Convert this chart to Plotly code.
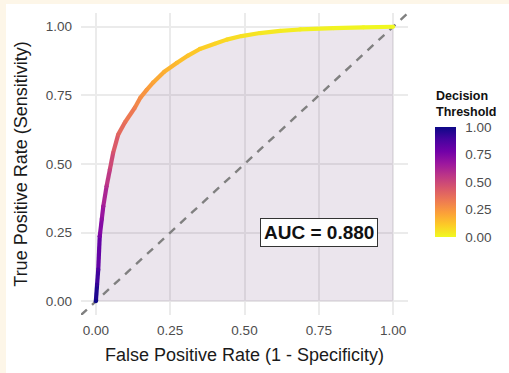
import plotly.graph_objects as go
from plotly.colors import sample_colorscale
import plotly.express as px

# ROC data
fpr = [0.000, 0.004, 0.008, 0.013, 0.020, 0.025, 0.036, 0.047, 0.058, 0.075,
       0.098, 0.131, 0.150, 0.171, 0.193, 0.230, 0.272, 0.310, 0.350, 0.400,
       0.440, 0.490, 0.552, 0.620, 0.687, 0.800, 0.900, 1.000]
tpr = [0.000, 0.060, 0.115, 0.237, 0.300, 0.346, 0.419, 0.479, 0.540, 0.607,
       0.652, 0.705, 0.742, 0.770, 0.797, 0.836, 0.868, 0.895, 0.919, 0.938,
       0.953, 0.966, 0.977, 0.985, 0.990, 0.995, 0.998, 1.000]
threshold = [1.00, 0.93, 0.87, 0.76, 0.70, 0.65, 0.58, 0.52, 0.46, 0.40,
             0.36, 0.31, 0.27, 0.24, 0.21, 0.18, 0.15, 0.13, 0.11, 0.09,
             0.075, 0.06, 0.045, 0.035, 0.025, 0.015, 0.008, 0.00]
auc_value = 0.880
tick_vals = [0.0, 0.25, 0.5, 0.75, 1.0]
tick_text = ["0.00", "0.25", "0.50", "0.75", "1.00"]
diag = [-0.05, 1.05]

W, H = 509, 373
ML, MR, MT, MB = 81, 101, 13, 58
PW, PH = W - ML - MR, H - MT - MB

scale = px.colors.sequential.Plasma_r
FONT = "Liberation Sans, Arial, Helvetica, sans-serif"


def px_x(p):
    return (p - ML) / PW


def px_y(p):
    return (MT + PH - p) / PH


fig = go.Figure()

# shaded area under the curve
fig.add_trace(go.Scatter(x=fpr, y=tpr, mode="lines", line=dict(width=0),
                         fill="tozeroy", fillcolor="rgba(110,70,130,0.14)",
                         hoverinfo="skip", showlegend=False))

# diagonal reference
fig.add_trace(go.Scatter(x=diag, y=diag, mode="lines",
                         line=dict(color="#808080", width=2.4, dash="8px,7px"),
                         hoverinfo="skip", showlegend=False))

# coloured ROC segments
for i in range(len(fpr) - 1):
    t = (threshold[i] + threshold[i + 1]) / 2
    c = sample_colorscale(scale, [t])[0]
    fig.add_trace(go.Scatter(x=fpr[i:i + 2], y=tpr[i:i + 2], mode="lines",
                             line=dict(color=c, width=4.2),
                             hoverinfo="skip", showlegend=False))

# joint markers + colorbar
fig.add_trace(go.Scatter(
    x=fpr, y=tpr, mode="markers", showlegend=False,
    marker=dict(size=4.2, color=threshold, colorscale=scale, cmin=0, cmax=1,
                line=dict(width=0),
                colorbar=dict(
                    x=px_x(435), xanchor="left", xpad=0,
                    y=px_y(237), yanchor="bottom", ypad=0,
                    len=110, lenmode="pixels", thickness=21,
                    outlinewidth=0,
                    tickvals=tick_vals, ticktext=tick_text,
                    ticks="outside", ticklen=7, tickcolor="rgba(0,0,0,0)",
                    tickfont=dict(size=13.5, color="#4d4d4d", family=FONT)))))

# colorbar title
fig.add_annotation(x=px_x(434), y=px_y(87), xref="paper", yref="paper",
                   xanchor="left", yanchor="top", align="left",
                   text="<b>Decision<br>Threshold</b>", showarrow=False,
                   font=dict(size=12.5, color="#111", family=FONT))

fig.add_annotation(x=0.75, y=0.25, xref="x", yref="y",
                   text="<b>AUC = 0.880</b>", showarrow=False,
                   font=dict(size=19, color="#111", family=FONT),
                   bgcolor="white", bordercolor="#333", borderwidth=1,
                   borderpad=3)

# cream frame with white inner area
fig.add_shape(type="rect", xref="paper", yref="paper", layer="below",
              x0=px_x(6), x1=px_x(W + 5), y0=px_y(H + 5), y1=px_y(4),
              fillcolor="white", line=dict(width=0))

axis_common = dict(range=[-0.05, 1.05], tickvals=tick_vals, ticktext=tick_text,
                   showgrid=True, gridcolor="#ebebeb", gridwidth=1.5,
                   zeroline=False, showline=False, ticks="",
                   tickfont=dict(size=13.5, color="#4d4d4d", family=FONT),
                   automargin=False)

fig.update_xaxes(**axis_common,
                 title=dict(text="False Positive Rate (1 - Specificity)",
                            font=dict(size=18, color="#1a1a1a", family=FONT),
                            standoff=11),
                 ticklabelstandoff=5)
fig.update_yaxes(**axis_common,
                 title=dict(text="True Positive Rate (Sensitivity)",
                            font=dict(size=18, color="#1a1a1a", family=FONT),
                            standoff=13),
                 ticklabelstandoff=8)

fig.update_layout(width=W, height=H, autosize=False,
                  margin=dict(l=ML, r=MR, t=MT, b=MB, autoexpand=False),
                  paper_bgcolor="#fdf6e8", plot_bgcolor="rgba(0,0,0,0)",
                  font=dict(family=FONT))

fig.write_html("out.html")
